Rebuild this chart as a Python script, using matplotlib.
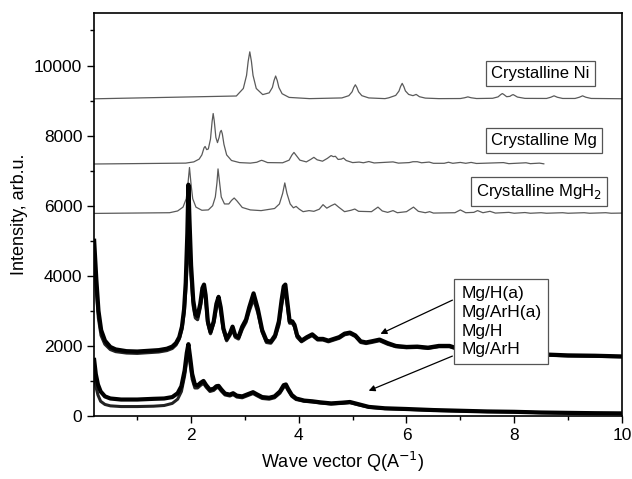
import numpy as np
import matplotlib.pyplot as plt
from matplotlib.ticker import MultipleLocator

plt.rcParams['font.family'] = ['Liberation Sans', 'DejaVu Sans']

# ---------------------------------------------------------------------------
# crystalline reference patterns (offset vertically)
# ---------------------------------------------------------------------------
ni_q = [0.2, 2.84, 2.97, 3.03, 3.06, 3.09, 3.12, 3.15, 3.21, 3.33, 3.45, 3.51, 3.54, 3.57,
        3.60, 3.63, 3.69, 3.82, 4.2, 4.80, 4.93, 4.99, 5.02, 5.05, 5.08, 5.11, 5.17, 5.30,
        5.6, 5.67, 5.80, 5.86, 5.89, 5.92, 5.95, 5.98, 6.04, 6.12, 6.18, 6.24, 6.35, 6.6,
        7.0, 7.08, 7.14, 7.20, 7.3, 7.6, 7.70, 7.75, 7.78, 7.81, 7.86, 7.92, 7.95, 7.98,
        8.01, 8.06, 8.2, 8.6, 8.68, 8.74, 8.80, 8.9, 9.13, 9.21, 9.27, 9.33, 9.43, 10.0]
ni_i = [9050, 9130, 9345, 9720, 10120, 10390, 10120, 9720, 9345, 9170, 9220, 9375, 9570, 9700,
        9570, 9375, 9195, 9090, 9055, 9075, 9140, 9250, 9370, 9450, 9370, 9250, 9140, 9075,
        9055, 9078, 9147, 9270, 9400, 9490, 9400, 9275, 9175, 9140, 9175, 9110, 9070, 9055,
        9058, 9080, 9105, 9080, 9058, 9065, 9105, 9170, 9200, 9170, 9110, 9120, 9150, 9170,
        9145, 9100, 9062, 9060, 9095, 9135, 9095, 9060, 9060, 9095, 9135, 9095, 9060, 9052]

mg_q = [0.2, 1.9, 2.05, 2.15, 2.20, 2.24, 2.26, 2.29, 2.32, 2.36, 2.39, 2.41, 2.43, 2.46,
        2.49, 2.52, 2.54, 2.56, 2.58, 2.61, 2.66, 2.75, 2.9, 3.1, 3.22, 3.28, 3.31, 3.34,
        3.42, 3.7, 3.82, 3.87, 3.91, 3.95, 4.02, 4.14, 4.22, 4.28, 4.34, 4.44, 4.53, 4.60,
        4.64, 4.68, 4.73, 4.79, 4.83, 4.88, 5.0, 5.12, 5.2, 5.30, 5.4, 5.75, 5.85, 6.05,
        6.12, 6.2, 6.28, 6.42, 6.5, 6.7, 6.78, 6.86, 7.0, 7.1, 7.2, 7.3, 7.8, 7.9, 8.22,
        8.3, 8.47, 8.55]
mg_i = [7190, 7215, 7250, 7330, 7450, 7650, 7690, 7600, 7620, 7900, 8400, 8630, 8420, 7950,
        7800, 7950, 8100, 8150, 8050, 7750, 7450, 7290, 7230, 7215, 7240, 7280, 7295, 7280,
        7230, 7225, 7300, 7440, 7520, 7440, 7300, 7250, 7320, 7380, 7310, 7270, 7350, 7430,
        7400, 7410, 7320, 7330, 7360, 7290, 7230, 7245, 7225, 7260, 7220, 7250, 7215, 7230,
        7255, 7255, 7225, 7245, 7210, 7210, 7240, 7210, 7235, 7210, 7235, 7205, 7230, 7200,
        7225, 7200, 7215, 7195]

mgh2_q = [0.2, 1.6, 1.75, 1.85, 1.91, 1.94, 1.97, 2.00, 2.03, 2.09, 2.2, 2.32, 2.40, 2.45,
          2.48, 2.50, 2.53, 2.56, 2.62, 2.70, 2.75, 2.80, 2.85, 2.95, 3.1, 3.3, 3.55, 3.64,
          3.70, 3.74, 3.78, 3.84, 3.90, 3.95, 4.01, 4.08, 4.19, 4.28, 4.38, 4.45, 4.52, 4.60,
          4.67, 4.74, 4.85, 4.97, 5.04, 5.11, 5.35, 5.47, 5.55, 5.65, 5.75, 5.83, 6.0, 6.13,
          6.22, 6.35, 6.43, 6.5, 6.9, 7.0, 7.1, 7.25, 7.32, 7.42, 7.55, 7.65, 7.9, 8.0, 8.2,
          8.3, 8.5, 8.6, 8.9, 9.0, 9.3, 9.4, 9.7, 9.8, 10.0]
mgh2_i = [5780, 5800, 5850, 5960, 6200, 6600, 7090, 6600, 6200, 5960, 5870, 5880, 6000, 6250,
          6650, 7050, 6650, 6250, 6050, 6050, 6150, 6220, 6140, 5950, 5880, 5860, 5920, 6050,
          6350, 6650, 6350, 6050, 5940, 5980, 5900, 5830, 5860, 5840, 5900, 6030, 5930, 6000,
          6050, 5960, 5830, 5870, 5905, 5840, 5830, 5960, 5850, 5810, 5860, 5800, 5830, 5960,
          5840, 5800, 5830, 5790, 5800, 5880, 5800, 5810, 5860, 5800, 5840, 5790, 5810, 5785,
          5805, 5785, 5800, 5785, 5800, 5785, 5800, 5785, 5800, 5785, 5790]

# ---------------------------------------------------------------------------
# measured patterns
# ---------------------------------------------------------------------------
up_q = [0.2, 0.24, 0.28, 0.33, 0.4, 0.5, 0.6, 0.8, 1.0, 1.2, 1.4, 1.55, 1.65, 1.72, 1.78,
        1.83, 1.87, 1.90, 1.93, 1.95, 1.97, 2.0, 2.04, 2.08, 2.12, 2.17, 2.21, 2.24, 2.27,
        2.31, 2.36, 2.42, 2.47, 2.51, 2.55, 2.6, 2.66, 2.72, 2.77, 2.82, 2.88, 2.95, 3.02,
        3.08, 3.16, 3.24, 3.32, 3.40, 3.48, 3.56, 3.63, 3.68, 3.72, 3.75, 3.78, 3.83, 3.88,
        3.92, 3.97, 4.05, 4.15, 4.25, 4.35, 4.45, 4.55, 4.65, 4.75, 4.85, 4.95, 5.05, 5.15,
        5.25, 5.35, 5.5, 5.65, 5.8, 6.0, 6.2, 6.4, 6.6, 6.8, 7.0, 7.3, 7.6, 8.0, 8.5, 9.0,
        9.5, 10.0]
mg_h_a = [5000, 3900, 3000, 2450, 2150, 1970, 1900, 1850, 1840, 1860, 1880, 1920, 1980, 2080,
          2250, 2550, 3050, 3800, 5200, 6600, 5600, 4300, 3300, 2900, 2850, 3200, 3650, 3750,
          3450, 2700, 2400, 2700, 3200, 3400, 3100, 2500, 2200, 2350, 2550, 2300, 2250, 2550,
          2750, 3100, 3500, 3050, 2450, 2150, 2120, 2300, 2700, 3300, 3700, 3750, 3350, 2700,
          2700, 2600, 2300, 2150, 2250, 2330, 2200, 2200, 2150, 2200, 2250, 2350, 2380, 2300,
          2130, 2100, 2130, 2180, 2080, 2000, 1970, 1980, 1950, 2000, 2000, 1900, 1870, 1840,
          1800, 1760, 1730, 1720, 1700]
mg_arh_a = [4700, 3600, 2800, 2300, 2050, 1900, 1840, 1800, 1790, 1810, 1830, 1870, 1930, 2030,
            2200, 2480, 2950, 3600, 4500, 5100, 4800, 4000, 3150, 2800, 2750, 3100, 3500, 3580,
            3350, 2650, 2350, 2650, 3100, 3300, 3000, 2450, 2150, 2300, 2480, 2250, 2200, 2480,
            2680, 3000, 3350, 2950, 2400, 2100, 2080, 2250, 2600, 3150, 3500, 3550, 3250, 2650,
            2650, 2550, 2250, 2120, 2220, 2300, 2170, 2170, 2120, 2170, 2220, 2320, 2350, 2270,
            2100, 2070, 2100, 2150, 2050, 1980, 1950, 1960, 1930, 1980, 1980, 1880, 1850, 1820,
            1780, 1745, 1715, 1705, 1690]

lo_q = [0.2, 0.23, 0.27, 0.32, 0.4, 0.5, 0.7, 1.0, 1.3, 1.5, 1.65, 1.75, 1.82, 1.88, 1.92,
        1.95, 1.98, 2.02, 2.07, 2.12, 2.18, 2.23, 2.28, 2.35, 2.42, 2.47, 2.51, 2.56, 2.63,
        2.72, 2.78, 2.85, 2.95, 3.05, 3.15, 3.22, 3.32, 3.45, 3.55, 3.65, 3.72, 3.76, 3.80,
        3.87, 3.95, 4.1, 4.25, 4.4, 4.6, 4.8, 4.95, 5.1, 5.3, 5.6, 6.0, 6.5, 7.0, 7.5, 8.0,
        8.5, 9.0, 9.5, 10.0]
mg_h = [1600, 1200, 900, 700, 560, 500, 470, 470, 490, 500, 540, 650, 850, 1300, 1800,
        2050, 1700, 1200, 900, 870, 950, 1000, 880, 750, 780, 850, 860, 760, 640, 610, 650,
        580, 560, 620, 680, 620, 540, 520, 560, 700, 880, 900, 780, 600, 500, 440, 420, 390,
        360, 380, 400, 340, 260, 220, 200, 170, 150, 130, 120, 100, 90, 80, 75]
mg_arh = [1300, 850, 600, 420, 330, 290, 270, 270, 280, 300, 360, 480, 700, 1150, 1600,
          1800, 1500, 1050, 800, 800, 880, 930, 820, 700, 730, 800, 810, 710, 600, 570, 610,
          540, 520, 580, 640, 580, 500, 480, 520, 650, 820, 850, 730, 560, 470, 420, 400, 370,
          340, 360, 380, 320, 250, 210, 190, 160, 140, 125, 115, 95, 85, 75, 70]

# ---------------------------------------------------------------------------
# plot
# ---------------------------------------------------------------------------
fig = plt.figure(figsize=(6.32, 4.79), dpi=100)
ax = fig.add_axes([0.149, 0.1315, 0.835, 0.8415])

ref_col = "#5a5a5a"
ax.plot(ni_q, ni_i, color=ref_col, lw=0.9)
ax.plot(mg_q, mg_i, color=ref_col, lw=0.9)
ax.plot(mgh2_q, mgh2_i, color=ref_col, lw=0.9)

ax.plot(up_q, mg_arh_a, color="#222222", lw=2.4)
ax.plot(up_q, mg_h_a, color="black", lw=3.0)
ax.plot(lo_q, mg_arh, color="#222222", lw=2.2)
ax.plot(lo_q, mg_h, color="black", lw=3.0)

ax.set_xlim(0.2, 10)
ax.set_ylim(0, 11500)
ax.xaxis.set_major_locator(MultipleLocator(2))
ax.xaxis.set_minor_locator(MultipleLocator(1))
ax.yaxis.set_major_locator(MultipleLocator(2000))
ax.yaxis.set_minor_locator(MultipleLocator(1000))
ax.tick_params(which="major", direction="out", length=5, width=1, labelsize=12.5)
ax.tick_params(which="minor", direction="out", length=3, width=1)
for sp in ax.spines.values():
	sp.set_linewidth(1.2)

ax.set_xlabel("Wave vector Q(A$^{-1}$)", fontsize=13)
ax.set_ylabel("Intensity, arb.u.", fontsize=13)
ax.xaxis.set_label_coords(0.47, -0.085)
ax.yaxis.set_label_coords(-0.125, 0.5)

box = dict(boxstyle="square,pad=0.3", fc="white", ec="#555555", lw=0.9)
ax.text(8.49, 9770, "Crystalline Ni", fontsize=12, ha="center", va="center", bbox=box)
ax.text(8.55, 7860, "Crystalline Mg", fontsize=12, ha="center", va="center", bbox=box)
ax.text(8.46, 6410, "Crystalline MgH$_2$", fontsize=12, ha="center", va="center", bbox=box)

ax.text(7.02, 2690, "Mg/H(a)\nMg/ArH(a)\nMg/H\nMg/ArH", fontsize=12.5, ha="left",
        va="center", linespacing=1.3,
        bbox=dict(boxstyle="square,pad=0.4", fc="white", ec="#555555", lw=0.9))

arrow = dict(arrowstyle="-|>", color="black", lw=0.9, mutation_scale=9)
ax.annotate("", xy=(5.47, 2310), xytext=(6.9, 3340), arrowprops=arrow)
ax.annotate("", xy=(5.25, 690), xytext=(6.9, 1740), arrowprops=arrow)

plt.savefig("out.png", dpi=100)
plt.close()
